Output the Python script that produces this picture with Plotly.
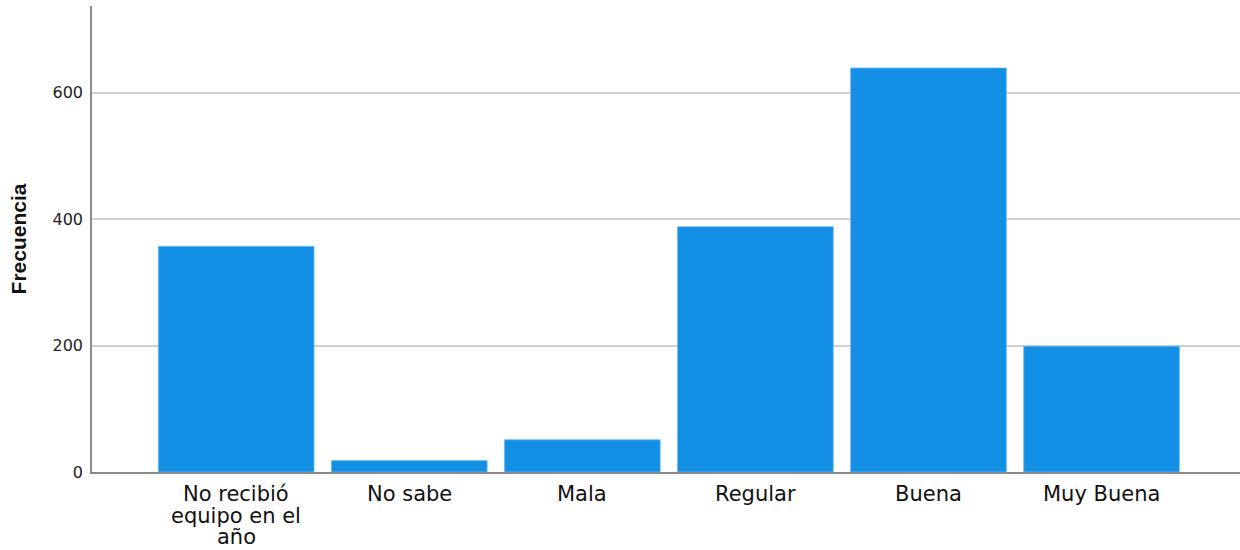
import plotly.graph_objects as go

categories = ["No recibió<br>equipo en el<br>año", "No sabe", "Mala", "Regular", "Buena", "Muy Buena"]
frecuencia = [357, 18, 51, 388, 639, 199]
y_ticks = [0, 200, 400, 600]

x_pos = list(range(len(categories)))

fig = go.Figure(go.Bar(
    x=x_pos,
    y=frecuencia,
    marker=dict(color="#138fe6", line=dict(color="#6fbdf2", width=0.8)),
))

# category labels: one annotation per line so the tight line spacing matches
annotations = []
for i, cat in enumerate(categories):
    for k, line in enumerate(cat.split("<br>")):
        annotations.append(dict(
            x=i, xref="x", y=0, yref="paper",
            text=line, showarrow=False,
            xanchor="center", yanchor="top",
            yshift=-8 - k * 21.5,
            font=dict(size=21, family="DejaVu Sans", color="#111111"),
        ))

fig.update_layout(
    width=1240, height=550,
    margin=dict(l=92, r=0, t=6, b=78),
    paper_bgcolor="white", plot_bgcolor="white",
    bargap=0.1,
    showlegend=False,
    annotations=annotations,
    font=dict(family="DejaVu Sans", color="#111111"),
)
fig.update_xaxes(
    range=[-0.833, 5.80],
    tickvals=x_pos,
    showticklabels=False,
    showgrid=False, zeroline=False,
    showline=True, linecolor="#8a8a8a", linewidth=1.5,
    ticks="",
)
fig.update_yaxes(
    range=[0, 737],
    tickvals=y_ticks,
    tickfont=dict(size=16, family="DejaVu Sans", color="#222222"),
    showgrid=True, gridcolor="#cfcfcf", gridwidth=1.5,
    zeroline=False,
    showline=True, linecolor="#8a8a8a", linewidth=1.5,
    ticks="outside", ticklen=4, tickcolor="white",
    title=dict(text="<b>Frecuencia</b>", font=dict(size=21, family="Liberation Sans", color="#111111"), standoff=20),
)

fig.write_html("out.html", config={"displayModeBar": False},
               post_script="document.body.style.margin='0';")
